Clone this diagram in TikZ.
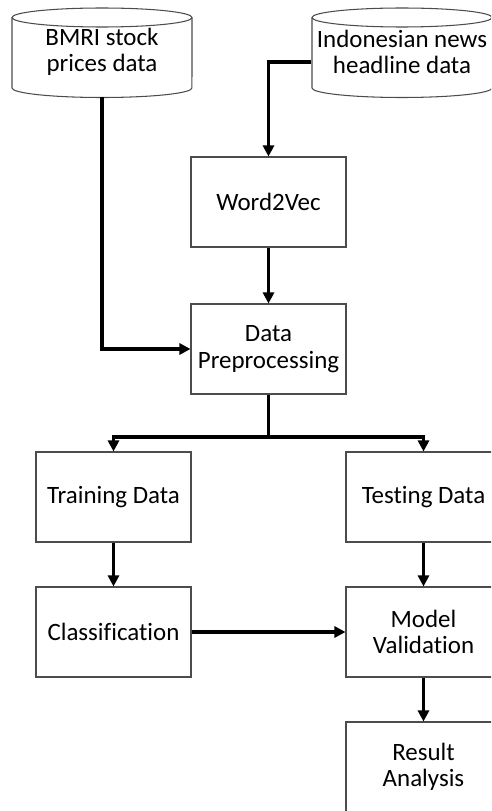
\documentclass[tikz,border=0pt]{standalone}
\usepackage{fontspec}
\setmainfont[Ligatures={NoCommon,NoRequired,NoDiscretionary}]{Carlito}
\usetikzlibrary{arrows.meta,positioning}

\tikzset{
  stepbox/.style={draw=black!70, line width=0.6pt, minimum width=3.1cm,
    minimum height=1.8cm, align=center, font=\fontsize{14.2}{15}\selectfont},
  store/.style={minimum width=3.6cm, minimum height=1.8cm, align=center,
    font=\fontsize{14.2}{15}\selectfont},
  drum/.style={draw=black!70, line width=0.6pt},
  link/.style={line width=1.9pt},
  flow/.style={link, -{Triangle[length=0.22cm,width=0.22cm]}}
}

\begin{document}
\begin{tikzpicture}[x=0.02cm, y=-0.02cm]

\clip (0,0) rectangle (491,811);

% data sources
\node [store] (bmri) at (102,52) {BMRI stock\\prices data};
\node [store] (news) at (402,52) {Indonesian news\\headline data};
\foreach \c in {102,402} {
  \draw [drum] (\c-90,17.5) -- (\c-90,88)
    arc [start angle=180, end angle=360, x radius=1.8cm, y radius=0.19cm]
    -- (\c+90,17.5);
  \draw [drum] (\c,17.5) ellipse [x radius=1.8cm, y radius=0.19cm];
}

% process steps
\node [stepbox] (w2v)   at (268.5,202) {Word2Vec};
\node [stepbox] (prep)  at (268.5,349) {Data\\Preprocessing};
\node [stepbox] (train) at (113.5,497) {Training Data};
\node [stepbox] (test)  at (423.5,497) {Testing Data};
\node [stepbox] (clf)   at (113.5,632) {Classification};
\node [stepbox] (valid) at (423.5,632) {Model\\Validation};
\node [stepbox] (res)   at (423.5,767) {Result\\Analysis};

% connectors
\coordinate (newsin) at ([yshift=-0.2cm]news.west);
\coordinate (split) at (268.5,437);
\draw [flow] (newsin) -| (w2v.north);
\draw [flow] (w2v) -- (prep);
\draw [flow] (bmri.south) |- (prep.west);
\draw [link] (prep.south) -- (split);
\draw [flow] (split) -| (train.north);
\draw [flow] (split) -| (test.north);
\draw [flow] (train) -- (clf);
\draw [flow] (test) -- (valid);
\draw [flow] (clf) -- (valid);
\draw [flow] (valid) -- (res);

\end{tikzpicture}
\end{document}
